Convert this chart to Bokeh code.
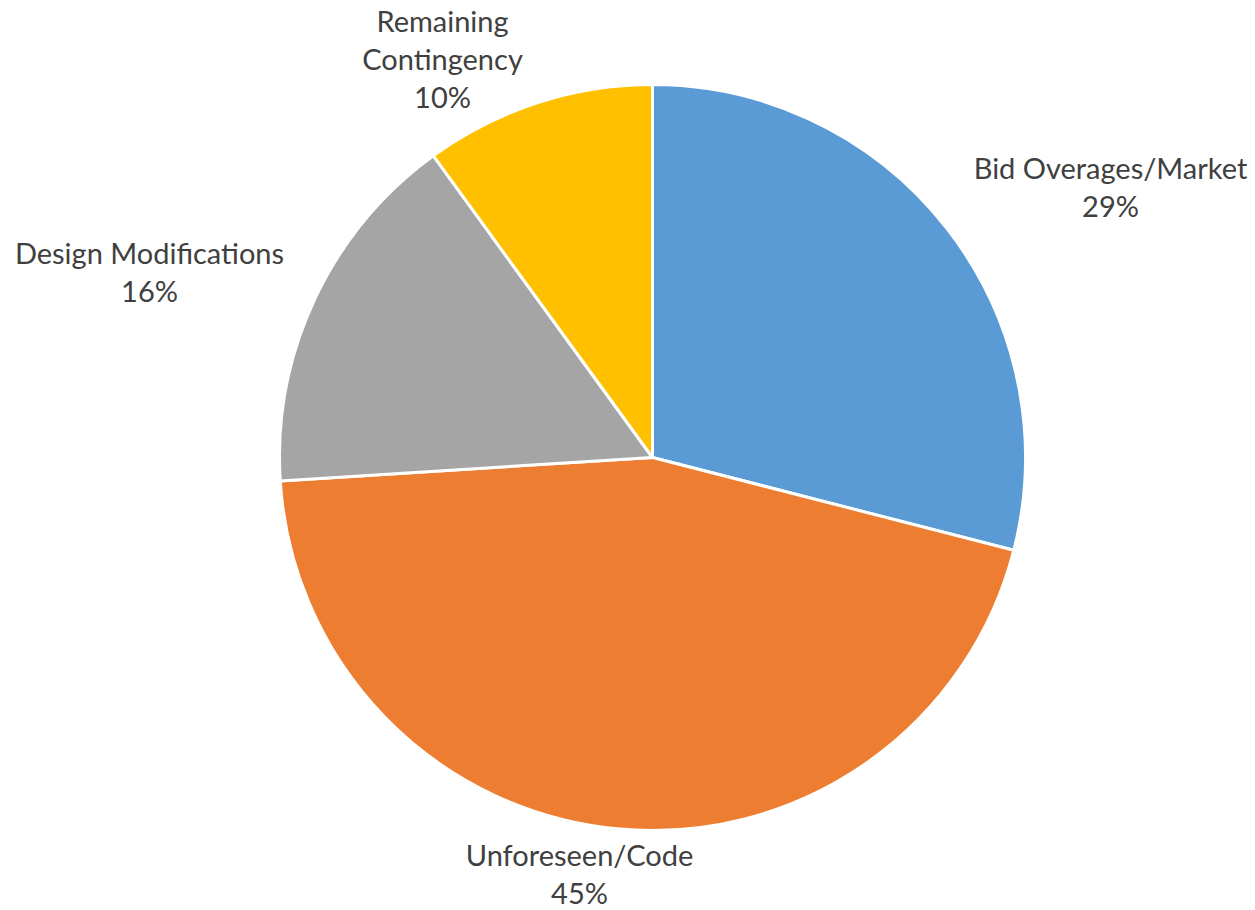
import math
from bokeh.plotting import figure
from bokeh.models import Range1d, ColumnDataSource
from bokeh.core.properties import value
from bokeh.embed import file_html
from bokeh.resources import INLINE

categories = ["Bid Overages/Market", "Unforeseen/Code", "Design Modifications", "Remaining Contingency"]
values = [29, 45, 16, 10]
colors = ["#5B9BD5", "#ED7D31", "#A5A5A5", "#FFC000"]
label_lines = [["Bid Overages/Market", "29%"], ["Unforeseen/Code", "45%"],
               ["Design Modifications", "16%"], ["Remaining", "Contingency", "10%"]]

# layout (picture pixel coordinates, y measured upward from picture bottom)
W, H = 1255, 910
cx, cy, r = 652, H - 457, 373
label_pos = [(1110, H - 167), (579, H - 854), (149, H - 252), (442, H - 20)]
line_gap = 38

p = figure(width=W, height=H, output_backend="svg", toolbar_location=None,
           x_range=Range1d(0, W), y_range=Range1d(0, H),
           min_border=0)
p.axis.visible = False
p.grid.visible = False
p.outline_line_color = None

total = sum(values)
starts, ends = [], []
a = math.pi / 2
for v in values:
    starts.append(a)
    a -= v / total * 2 * math.pi
    ends.append(a)

src = ColumnDataSource(dict(start=ends, end=starts, color=colors, cat=categories))
p.wedge(x=cx, y=cy, radius=r, start_angle="start", end_angle="end",
        fill_color="color", line_color="white", line_width=3, source=src)

xs, ys, txt = [], [], []
for (lx, ly), lines in zip(label_pos, label_lines):
    for i, t in enumerate(lines):
        xs.append(lx)
        ys.append(ly - i * line_gap)
        txt.append(t)
p.text(x=xs, y=ys, text=txt, text_align="center", text_baseline="middle",
       text_font=value("Lato"), text_font_size="29px", text_color="#404040")

open("out.html", "w").write(file_html(p, INLINE))
